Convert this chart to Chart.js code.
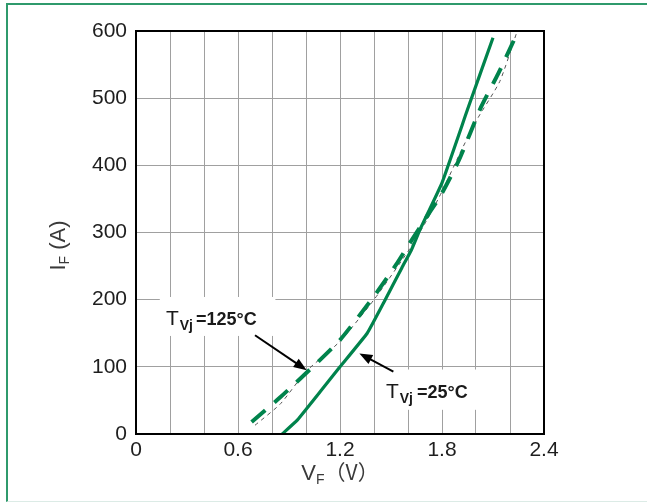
<!DOCTYPE html>
<html><head><meta charset="utf-8">
<script src="https://cdn.jsdelivr.net/npm/chart.js@4/dist/chart.umd.min.js"></script>
<style>
html,body{margin:0;padding:0;background:#fff;}
#wrap{position:relative;width:647px;height:503px;overflow:hidden;background:#fff;}
#frame{position:absolute;left:6px;top:3px;width:700px;height:496px;border-top:2px solid #2f9a6c;border-left:2px solid #2f9a6c;border-bottom:1px solid #dcebe6;}
canvas{position:absolute;left:0;top:0;}
</style></head><body>
<div id="wrap"><div id="frame"></div><canvas id="c" width="647" height="503"></canvas></div>
<script>
// Tvj = 25°C (solid)
const vf25 = [0.86, 0.95, 1.09, 1.20, 1.36, 1.46, 1.565, 1.62, 1.67, 1.80, 1.95, 2.10];
const if25 = [0, 21, 65, 100, 150, 197, 248, 274, 304, 374, 483, 590];
// Tvj = 125°C (green dashed)
const vf125 = [0.68, 0.85, 1.04, 1.20, 1.40, 1.53, 1.61, 1.73, 1.79, 1.90, 2.03, 2.13, 2.23];
const if125 = [18, 55, 100, 140, 205, 252, 284, 331, 354, 408, 487, 536, 590];
// thin grey reference dashed curve
const vfRef = [0.70, 0.85, 1.00, 1.20, 1.40, 1.60, 1.71, 1.80, 1.915, 2.01, 2.14, 2.24];
const ifRef = [13, 45, 93, 138, 200, 272, 318, 361, 423, 470, 525, 598];

const xTickLabels = ['0', '0.6', '1.2', '1.8', '2.4'];
const yTickLabels = ['0', '100', '200', '300', '400', '500', '600'];

const toPts = (xs, ys) => xs.map((v, i) => ({x: v, y: ys[i]}));
const GREEN = '#00834c';
const FONT = 'Liberation Sans, Arial, sans-serif';

function runs(ctx, x, y, parts) {
  for (const p of parts) {
    ctx.font = p[1];
    if (p[3]) x += p[3];
    ctx.fillText(p[0], x, y + p[2]);
    x += ctx.measureText(p[0]).width;
  }
  return x;
}
function runsWidth(ctx, parts) {
  let w = 0;
  for (const p of parts) { ctx.font = p[1]; w += ctx.measureText(p[0]).width + (p[3] || 0); }
  return w;
}
function arrow(ctx, x1, y1, x2, y2) {
  const a = Math.atan2(y2 - y1, x2 - x1), L = 13, W = 5;
  ctx.beginPath(); ctx.moveTo(x1, y1); ctx.lineTo(x2 - L * 0.6 * Math.cos(a), y2 - L * 0.6 * Math.sin(a)); ctx.stroke();
  ctx.beginPath();
  ctx.moveTo(x2, y2);
  ctx.lineTo(x2 - L * Math.cos(a) + W * Math.sin(a), y2 - L * Math.sin(a) - W * Math.cos(a));
  ctx.lineTo(x2 - L * Math.cos(a) - W * Math.sin(a), y2 - L * Math.sin(a) + W * Math.cos(a));
  ctx.closePath(); ctx.fill();
}

const notes = {
  id: 'notes',
  beforeDatasetsDraw(chart) {
    const {ctx, scales: {x, y}} = chart;
    ctx.save();
    ctx.fillStyle = '#fff';
    const boxes = [[0.14, 0.82, 146, 204], [1.43, 2.02, 36, 96]];
    for (const b of boxes) {
      const x0 = x.getPixelForValue(b[0]), x1 = x.getPixelForValue(b[1]);
      const y0 = y.getPixelForValue(b[3]), y1 = y.getPixelForValue(b[2]);
      ctx.fillRect(x0, y0, x1 - x0, y1 - y0);
    }
    ctx.restore();
  },
  afterDraw(chart) {
    const {ctx, chartArea: ca, scales: {x, y}} = chart;
    ctx.save();
    // plot frame
    ctx.strokeStyle = '#000'; ctx.lineWidth = 2;
    ctx.strokeRect(ca.left, ca.top, ca.right - ca.left, ca.bottom - ca.top);
    // arrows
    ctx.fillStyle = '#000'; ctx.lineWidth = 2;
    arrow(ctx, x.getPixelForValue(0.70), y.getPixelForValue(147), x.getPixelForValue(1.004), y.getPixelForValue(95));
    arrow(ctx, x.getPixelForValue(1.514), y.getPixelForValue(93), x.getPixelForValue(1.314), y.getPixelForValue(120));
    // labels
    ctx.fillStyle = '#1a1a1a';
    ctx.textAlign = 'left'; ctx.textBaseline = 'alphabetic';
    runs(ctx, x.getPixelForValue(0.176), y.getPixelForValue(162), [
      ['T', '21px ' + FONT, 0], ['Vj', 'bold 14px ' + FONT, 5, 1], ['=125°C', 'bold 18px ' + FONT, 0, 3]
    ]);
    runs(ctx, x.getPixelForValue(1.47), y.getPixelForValue(54), [
      ['T', '21px ' + FONT, 0], ['Vj', 'bold 14px ' + FONT, 5, 1], ['=25°C', 'bold 18px ' + FONT, 0, 4]
    ]);
    // axis titles
    ctx.fillStyle = '#3a3a3a';
    const xt = [['V', '22px ' + FONT, 0], ['F', '14px ' + FONT, 4], ['（V）', '21px Noto Sans CJK SC, ' + FONT, 0]];
    const xw = runsWidth(ctx, xt);
    runs(ctx, (ca.left + ca.right) / 2 - xw / 2, ca.bottom + 46, xt);
    const yt = [['I', '22px ' + FONT, 0], ['F', '14px ' + FONT, 4], [' (A)', '22px ' + FONT, 0]];
    const yw = runsWidth(ctx, yt);
    ctx.translate(65, (ca.top + ca.bottom) / 2 + 13);
    ctx.rotate(-Math.PI / 2);
    runs(ctx, -yw / 2, 0, yt);
    ctx.restore();
  }
};

new Chart(document.getElementById('c'), {
  type: 'line',
  data: {
    datasets: [
      {data: toPts(vf25, if25), borderColor: GREEN, borderWidth: 3.2, pointRadius: 0, tension: 0.1, fill: false},
      {data: toPts(vf125, if125), borderColor: GREEN, borderWidth: 4, borderDash: [18, 12], pointRadius: 0, tension: 0.2, fill: false},
      {data: toPts(vfRef, ifRef), borderColor: '#555', borderWidth: 1, borderDash: [4, 4], pointRadius: 0, tension: 0.2, fill: false}
    ]
  },
  options: {
    responsive: false,
    animation: false,
    devicePixelRatio: 1,
    layout: {padding: {left: 0, top: 31, right: 103, bottom: 0}},
    plugins: {legend: {display: false}, tooltip: {enabled: false}},
    scales: {
      x: {
        type: 'linear', min: 0, max: 2.4,
        afterFit: s => { s.height = 69; },
        grid: {color: '#a0a0a0', lineWidth: 1, drawTicks: false},
        border: {display: true, color: '#000', width: 2},
        ticks: {
          stepSize: 0.2, autoSkip: false, maxRotation: 0, padding: 4,
          color: '#1e1e1e', font: {family: FONT, size: 21},
          callback: v => { const k = Math.round(v * 10); return k % 6 === 0 ? xTickLabels[k / 6] : ''; }
        }
      },
      y: {
        type: 'linear', min: 0, max: 600,
        afterFit: s => { s.width = 136; },
        grid: {color: '#a0a0a0', lineWidth: 1, drawTicks: false},
        border: {display: true, color: '#000', width: 2},
        ticks: {
          stepSize: 100, padding: 9,
          color: '#1e1e1e', font: {family: FONT, size: 21},
          callback: v => yTickLabels[Math.round(v / 100)]
        }
      }
    }
  },
  plugins: [notes]
});
</script>
</body></html>
